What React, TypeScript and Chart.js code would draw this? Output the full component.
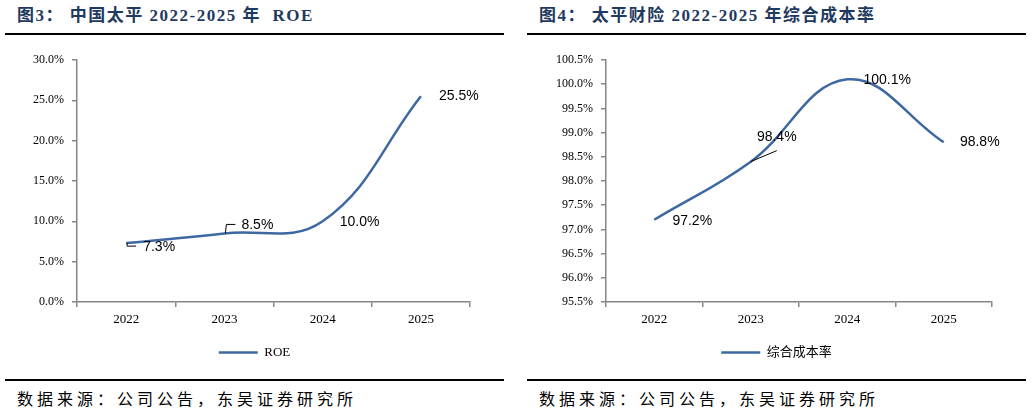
import { useEffect, useRef } from 'react'
import { Chart, registerables } from 'chart.js'

Chart.register(...registerables)

const YEARS = ['2022', '2023', '2024', '2025']
const ROE = [7.3, 8.5, 10.0, 25.5]
const COMBINED_RATIO = [97.2, 98.4, 100.1, 98.8]
const ROE_AXIS = [0, 30, 5]
const CR_AXIS = [95.5, 100.5, 0.5]

const LINE_BLUE = '#3D68A1'
const AXIS_GREY = '#868686'
const SERIF = '"Liberation Serif", "Times New Roman", serif'
const CJK = '"Liberation Serif", "Noto Sans CJK SC", serif'

type Pt = [number, number]

// draws the value labels next to each point, with Excel-style leader lines
const pointLabels = {
  id: 'pointLabels',
  afterDatasetsDraw(chart: any, _args: any, opts: any) {
    const meta = chart.getDatasetMeta(0)
    const values = chart.data.datasets[0].data as number[]
    const ctx = chart.ctx as CanvasRenderingContext2D
    ctx.save()
    meta.data.forEach((pt: any, i: number) => {
      const leader: Pt[] | undefined = opts.leaders?.[i]
      if (leader) {
        ctx.beginPath()
        leader.forEach(([lx, ly], k) => {
          if (k === 0) ctx.moveTo(pt.x + lx, pt.y + ly)
          else ctx.lineTo(pt.x + lx, pt.y + ly)
        })
        ctx.strokeStyle = '#000'
        ctx.lineWidth = 1
        ctx.stroke()
      }
      const [dx, dy] = opts.offsets[i]
      ctx.font = '14px "Liberation Sans", Arial, sans-serif'
      ctx.fillStyle = '#000'
      ctx.textAlign = 'center'
      ctx.textBaseline = 'middle'
      ctx.fillText(values[i].toFixed(1) + '%', pt.x + dx, pt.y + dy)
    })
    ctx.restore()
  },
}

interface LineChartProps {
  name: string
  values: number[]
  axis: number[]
  yWidth: number
  offsets: Pt[]
  leaders: (Pt[] | undefined)[]
}

function LineChart({ name, values, axis, yWidth, offsets, leaders }: LineChartProps) {
  const canvasRef = useRef<HTMLCanvasElement>(null)

  useEffect(() => {
    if (!canvasRef.current) return
    const [min, max, step] = axis
    const chart = new Chart(canvasRef.current, {
      type: 'line',
      data: {
        labels: YEARS,
        datasets: [{
          label: name,
          data: values,
          borderColor: LINE_BLUE,
          backgroundColor: LINE_BLUE,
          borderWidth: 2.5,
          pointRadius: 0,
          tension: 0.4,
          fill: false,
        }],
      },
      options: {
        animation: false,
        responsive: true,
        maintainAspectRatio: false,
        layout: { padding: { top: 20, right: 0, bottom: 6, left: 0 } },
        plugins: {
          legend: {
            position: 'bottom',
            labels: {
              usePointStyle: true,
              pointStyle: 'line',
              pointStyleWidth: 39,
              color: '#000',
              font: { family: CJK, size: 13 },
              padding: 12,
            },
          },
          tooltip: { enabled: false },
          pointLabels: { offsets, leaders },
        } as any,
        scales: {
          x: {
            offset: true,
            grid: { offset: true, drawOnChartArea: false, tickLength: 5, color: AXIS_GREY, lineWidth: 1.5 },
            border: { color: AXIS_GREY, width: 1.5 },
            ticks: { color: '#000', font: { family: SERIF, size: 13 }, padding: 5 },
            afterFit: (s: any) => { s.height = 32 },
          },
          y: {
            min, max,
            grid: { drawOnChartArea: false, tickLength: 5, color: AXIS_GREY, lineWidth: 1.5 },
            border: { color: AXIS_GREY, width: 1.5 },
            ticks: {
              stepSize: step,
              color: '#000',
              font: { family: SERIF, size: 12 },
              padding: 8,
              callback: (v: any) => Number(v).toFixed(1) + '%',
            },
            afterFit: (s: any) => { s.width = yWidth },
          },
          // empty right-hand gutter so the last label has room and the legend stays centred
          gutter: {
            position: 'right',
            grid: { display: false },
            border: { display: false },
            ticks: { display: false },
            afterFit: (s: any) => { s.width = 34 },
          },
        },
      },
      plugins: [pointLabels],
    })
    return () => chart.destroy()
  }, [])

  return <canvas ref={canvasRef} />
}

function Panel({ left, title, children }: { left: number; title: string; children: any }) {
  return (
    <div style={{ position: 'absolute', left, top: 0, width: 499, height: 413 }}>
      <div style={{
        position: 'absolute', left: 12, top: 5, whiteSpace: 'pre',
        font: `bold 17px ${CJK}`, letterSpacing: '1.5px', color: '#1F3A60', lineHeight: '22px',
      }}>{title}</div>
      <div style={{ position: 'absolute', left: 0, top: 33, width: 499, height: 2, background: '#000' }} />
      <div style={{ position: 'absolute', left: 0, top: 40, width: 499, height: 335 }}>{children}</div>
      <div style={{ position: 'absolute', left: 0, top: 379, width: 499, height: 2, background: '#000' }} />
      <div style={{
        position: 'absolute', left: 12, top: 387, whiteSpace: 'pre',
        font: '16px "Noto Sans CJK SC", sans-serif', letterSpacing: '4px', color: '#000', lineHeight: '22px',
      }}>数据来源：公司公告，东吴证券研究所</div>
    </div>
  )
}

export default function App() {
  return (
    <div style={{ position: 'fixed', left: 0, top: 0, width: 1032, height: 413, background: '#fff', overflow: 'hidden' }}>
      <Panel left={5} title={'图3： 中国太平 2022-2025 年  ROE'}>
        <LineChart
          name="ROE"
          values={ROE}
          axis={ROE_AXIS}
          yWidth={72}
          offsets={[[33, 4], [33, -8], [37, 1], [38, 0]]}
          leaders={[[[1, 0], [1, 3], [10, 3]], [[1, 0], [2, -9], [11, -9]], undefined, undefined]}
        />
      </Panel>
      <Panel left={527} title={'图4： 太平财险 2022-2025 年综合成本率'}>
        <LineChart
          name="综合成本率"
          values={COMBINED_RATIO}
          axis={CR_AXIS}
          yWidth={79}
          offsets={[[38, 1], [26, -24], [40, 1], [36, 0]]}
          leaders={[undefined, [[0, 0], [26, -11]], undefined, undefined]}
        />
      </Panel>
    </div>
  )
}
